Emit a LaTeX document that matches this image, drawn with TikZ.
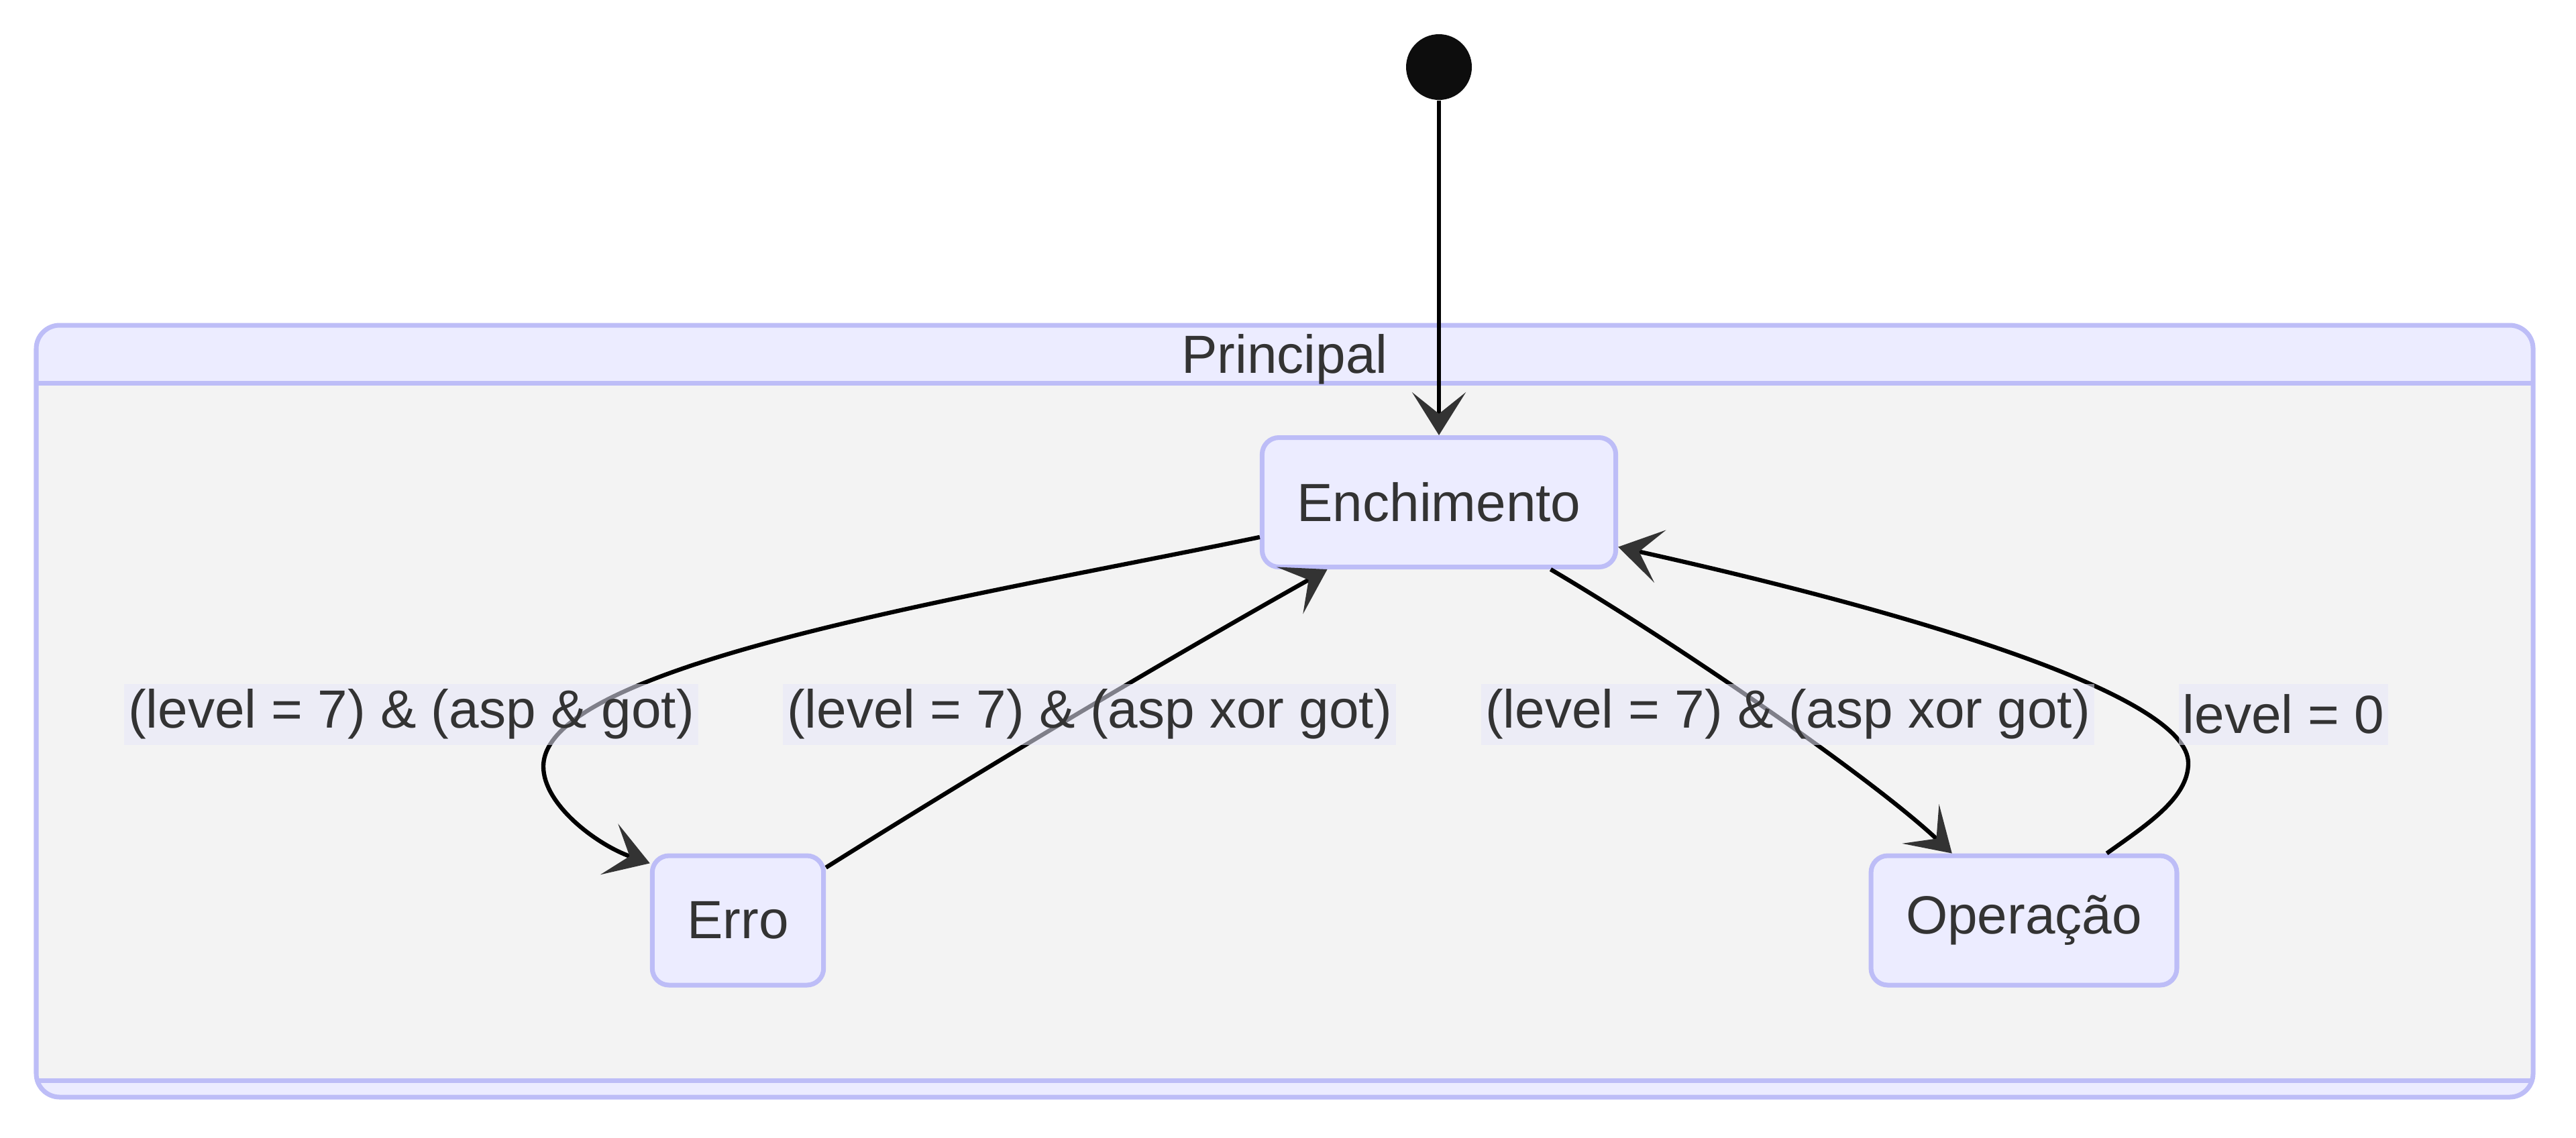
\documentclass[tikz,border=0pt]{standalone}
\usepackage{fontspec}
\setmainfont{Liberation Sans}
\usepackage{tikz}
\usetikzlibrary{arrows.meta,positioning,calc}
\definecolor{lav}{RGB}{236,236,255}
\definecolor{lavline}{RGB}{189,189,247}
\definecolor{clbg}{RGB}{243,243,243}
\definecolor{lblbg}{RGB}{232,232,250}
\definecolor{txt}{RGB}{51,51,51}
\definecolor{tipc}{RGB}{51,51,51}
\newcommand{\dgfont}{\fontsize{22.8pt}{27pt}\selectfont}
\tikzset{
	stnode/.style={draw=lavline, fill=lav, line width=2pt, rounded corners=0.25cm,
		minimum height=1.93cm, inner xsep=0.52cm, text=txt, font=\dgfont},
	initst/.style={circle, fill=black!95, minimum size=0.98cm, inner sep=0pt},
	trans/.style={line width=1.8pt, -{Stealth[length=6.4mm, width=8mm, inset=3.2mm, color=tipc]}},
	lbl/.style={fill=lblbg, fill opacity=0.55, text opacity=1, text=txt, font=\dgfont,
		inner xsep=0.06cm, inner ysep=0pt, minimum height=0.91cm},
	clu/.style={draw=lavline, line width=2pt},
}
\begin{document}
\begin{tikzpicture}[x=1cm, y=1cm]
	\useasboundingbox (0,0) rectangle (38.4,-16.96);
	% composite state
	\fill[lav, rounded corners=0.35cm] (0.54,-4.85) rectangle (37.76,-16.36);
	\fill[clbg] (0.54,-5.71) rectangle (37.76,-16.11);
	\draw[clu, rounded corners=0.35cm] (0.54,-4.85) rectangle (37.76,-16.36);
	\draw[clu] (0.54,-5.71) -- (37.76,-5.71);
	\draw[clu] (0.54,-16.11) -- (37.76,-16.11);
	\node[text=txt, font=\dgfont] at (19.15,-5.36) (principal) {Principal};
	% states
	\node[initst] at (21.45,-1.00) (init) {};
	\node[stnode] at (21.45,-7.49) (ench) {Enchimento};
	\node[stnode] at (11.00,-13.725) (erro) {Erro};
	\node[stnode] at (30.17,-13.725) (oper) {Operação};
	% transitions
	\draw[trans] (init) -- (ench);
	\draw[trans] (ench.191) .. controls (14.5,-8.9) and (8.1,-9.9) .. (8.1,-11.43)
		.. controls (8.1,-12.0) and (8.9,-12.6) .. (erro.147);
	\draw[trans] (erro.31) .. controls (14.76,-11.40) and (17.28,-9.90) .. (ench.211);
	\draw[trans] (ench.-31) .. controls (25.0,-9.6) and (27.9,-11.6) .. (oper.137);
	\draw[trans] (oper.39) .. controls (32.0,-12.3) and (32.62,-11.9) .. (32.62,-11.38)
		.. controls (32.62,-10.4) and (28.8,-9.2) .. (ench.-14);
	% guards
	\node[lbl] at (6.13,-10.65) (gErro) {(level = 7) \& (asp \& got)};
	\node[lbl] at (16.24,-10.65) (gVolta) {(level = 7) \& (asp xor got)};
	\node[lbl] at (26.65,-10.65) (gOper) {(level = 7) \& (asp xor got)};
	\node[lbl] at (34.04,-10.65) (gZero) {level = 0};
\end{tikzpicture}
\end{document}
